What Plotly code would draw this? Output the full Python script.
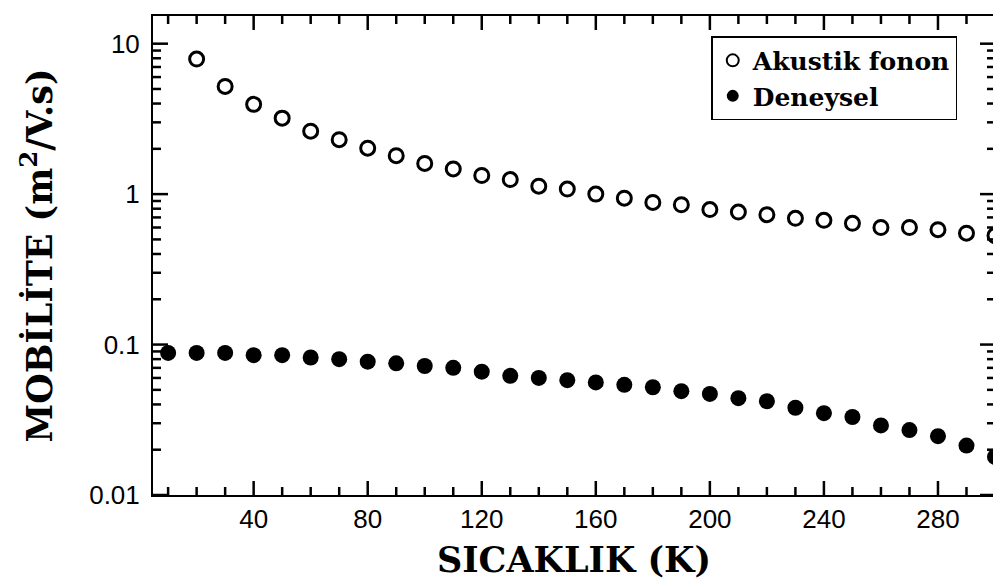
import plotly.graph_objects as go

# Data
temp_akustik = [20, 30, 40, 50, 60, 70, 80, 90, 100, 110, 120, 130, 140, 150, 160,
                170, 180, 190, 200, 210, 220, 230, 240, 250, 260, 270, 280, 290, 300]
mob_akustik = [7.9, 5.2, 3.95, 3.2, 2.62, 2.3, 2.02, 1.8, 1.6, 1.47, 1.33, 1.25, 1.13, 1.08, 1.0,
               0.94, 0.88, 0.85, 0.79, 0.76, 0.73, 0.69, 0.67, 0.64, 0.6, 0.6, 0.58, 0.55, 0.53]

temp_deneysel = [10, 20, 30, 40, 50, 60, 70, 80, 90, 100, 110, 120, 130, 140, 150,
                 160, 170, 180, 190, 200, 210, 220, 230, 240, 250, 260, 270, 280, 290, 300]
mob_deneysel = [0.088, 0.088, 0.088, 0.085, 0.085, 0.082, 0.080, 0.077, 0.075, 0.072, 0.070, 0.066,
                0.062, 0.060, 0.058, 0.056, 0.054, 0.052, 0.049, 0.047, 0.044, 0.042, 0.038,
                0.035, 0.033, 0.029, 0.027, 0.0246, 0.0213, 0.0179]

x_ticks = [40, 80, 120, 160, 200, 240, 280]
x_minor = [10, 20, 30, 50, 60, 70, 90, 100, 110, 130, 140, 150, 170, 180, 190,
           210, 220, 230, 250, 260, 270, 290]
y_tickvals = [0.01, 0.1, 1, 10]
y_ticktext = ["0.01", "0.1", "1", "10"]
y_minor = [0.02, 0.03, 0.04, 0.05, 0.06, 0.07, 0.08, 0.09,
           0.2, 0.3, 0.4, 0.5, 0.6, 0.7, 0.8, 0.9,
           2, 3, 4, 5, 6, 7, 8, 9]

serif = "DejaVu Serif, serif"
sans = "Liberation Sans, Arial, sans-serif"
x_range = [4.7, 300]
y_range = [-2, 1.184]

fig = go.Figure()
fig.add_trace(go.Scatter(
    x=temp_akustik, y=mob_akustik, mode="markers", name="<b>Akustik fonon</b>",
    marker=dict(symbol="circle-open", size=14, color="black", line=dict(width=3, color="black")),
    cliponaxis=False,
))
fig.add_trace(go.Scatter(
    x=temp_deneysel, y=mob_deneysel, mode="markers", name="<b>Deneysel</b>",
    marker=dict(symbol="circle", size=16, color="black"),
    cliponaxis=False,
))

# Inside tick marks on all four sides, placed on the axes' own scales
tick_line = dict(color="black", width=2.5)
for vals, length in ((x_ticks, 14), (x_minor, 8)):
    for v in vals:
        fig.add_shape(type="line", xref="x", yref="paper", x0=v, x1=v,
                      ysizemode="pixel", yanchor=0, y0=0, y1=length, line=tick_line, layer="above")
        fig.add_shape(type="line", xref="x", yref="paper", x0=v, x1=v,
                      ysizemode="pixel", yanchor=1, y0=-length, y1=0, line=tick_line, layer="above")
for vals, length in ((y_tickvals, 15), (y_minor, 8)):
    for v in vals:
        fig.add_shape(type="line", yref="y", xref="paper", y0=v, y1=v,
                      xsizemode="pixel", xanchor=0, x0=0, x1=length, line=tick_line, layer="above")
        fig.add_shape(type="line", yref="y", xref="paper", y0=v, y1=v,
                      xsizemode="pixel", xanchor=1, x0=-length, x1=0, line=tick_line, layer="above")

fig.update_layout(
    width=1001, height=587,
    margin=dict(l=145, r=14, t=6, b=100),
    paper_bgcolor="white", plot_bgcolor="white",
    showlegend=True,
    legend=dict(
        x=0.663, y=0.958, xanchor="left", yanchor="top",
        bgcolor="white", bordercolor="black", borderwidth=1.5,
        font=dict(family=serif, size=25, color="black"),
        itemsizing="constant", tracegroupgap=2,
    ),
    xaxis=dict(
        range=x_range, showgrid=False, zeroline=False,
        showline=True, linecolor="black", linewidth=2, mirror=True,
        ticks="", tickmode="array", tickvals=x_ticks,
        tickfont=dict(family=sans, size=26, color="black"),
        title=dict(text="<b>SICAKLIK (K)</b>", font=dict(family=serif, size=35, color="black"), standoff=14),
    ),
    yaxis=dict(
        type="log", range=y_range, showgrid=False, zeroline=False,
        showline=True, linecolor="black", linewidth=2, mirror=True,
        ticks="", tickmode="array", tickvals=y_tickvals, ticktext=y_ticktext,
        tickfont=dict(family=sans, size=26, color="black"), ticklabelstandoff=6,
        title=dict(text="<b>MOBİLİTE (m<sup>2</sup>/V.s)</b>", font=dict(family=serif, size=35, color="black"), standoff=26),
    ),
)

fig.write_html("out.html")
